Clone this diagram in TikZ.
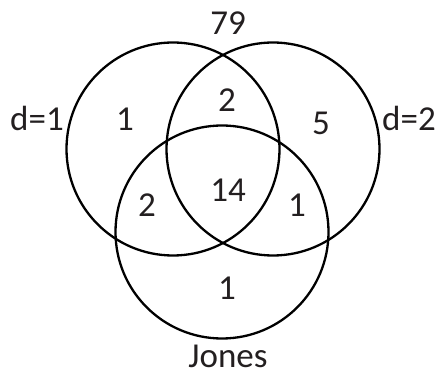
\documentclass[tikz,border=0pt]{standalone}
\usepackage{fontspec}
\setmainfont{Carlito}
\definecolor{txt}{HTML}{231F20}
\begin{document}
\begin{tikzpicture}[x=1pt,y=-1pt,
  ring/.style={draw=black,line width=2.3pt,circle,minimum size=213pt,inner sep=0pt},
  lbl/.style={text=txt,font=\fontsize{35}{40}\selectfont,inner sep=0pt}]
\useasboundingbox (0,0) rectangle (439,371);
\node[ring] (A) at (173,149) {};
\node[ring] (B) at (273,149) {};
\node[ring] (C) at (222,232) {};
\node[lbl] (t79) at (228,23) {79};
\node[lbl] (d1) at (37,118) {d=1};
\node[lbl] (d2) at (409,118) {d=2};
\node[lbl] (a) at (125,119) {1};
\node[lbl] (ab) at (227,100) {2};
\node[lbl] (b) at (321,123) {5};
\node[lbl] (ac) at (147,205) {2};
\node[lbl] (abc) at (228,190) {14};
\node[lbl] (bc) at (297,205) {1};
\node[lbl] (c) at (227,288) {1};
\node[lbl] (jones) at (228,356) {Jones};
\end{tikzpicture}
\end{document}
